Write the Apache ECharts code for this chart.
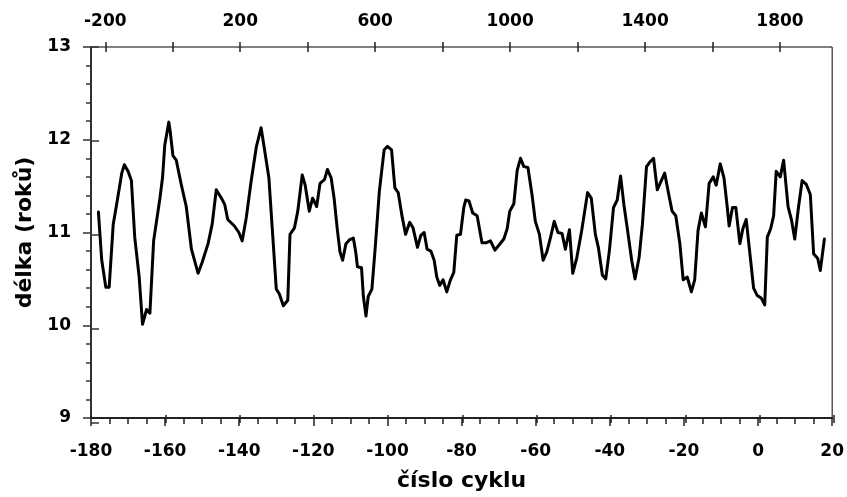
<!DOCTYPE html>
<html><head><meta charset="utf-8">
<script src="https://cdn.jsdelivr.net/npm/echarts@6/dist/echarts.min.js"></script>
<style>html,body{margin:0;padding:0;background:#fff}#c{width:847px;height:497px}</style>
</head><body><div id="c"></div>
<script>
const cycles = [-178.0,-177.1,-176.0,-175.1,-174.0,-173.1,-171.7,-171.0,-170.0,-169.1,-168.2,-167.0,-166.1,-165.0,-164.1,-163.1,-161.4,-160.7,-160.1,-159.0,-158.6,-157.9,-157.0,-155.6,-154.3,-152.9,-151.1,-150.0,-148.4,-147.3,-146.2,-144.8,-143.9,-143.1,-141.3,-140.1,-139.2,-138.1,-136.8,-135.4,-134.1,-133.2,-132.0,-131.1,-130.0,-129.2,-128.1,-126.9,-126.3,-125.1,-124.2,-123.0,-122.2,-121.1,-120.2,-119.1,-118.2,-117.0,-116.2,-115.2,-114.4,-113.5,-112.8,-112.1,-111.2,-110.3,-109.2,-108.5,-108.1,-107.0,-106.5,-105.8,-105.2,-104.2,-103.3,-102.2,-100.9,-100.0,-98.9,-98.0,-97.1,-96.0,-95.1,-94.0,-93.1,-91.9,-91.0,-90.1,-89.3,-88.3,-87.4,-86.7,-85.9,-85.0,-84.0,-83.0,-82.1,-81.3,-80.3,-79.4,-78.9,-78.0,-77.0,-75.8,-74.5,-73.3,-72.2,-71.0,-70.0,-68.6,-67.7,-67.0,-65.9,-65.0,-64.1,-63.2,-62.1,-61.0,-60.1,-59.0,-58.0,-57.0,-56.1,-55.0,-54.0,-52.9,-52.0,-50.9,-50.0,-48.9,-47.6,-46.0,-45.0,-43.9,-43.1,-42.0,-41.1,-40.1,-39.0,-38.0,-37.1,-36.2,-35.2,-34.1,-33.2,-32.1,-31.2,-30.1,-29.2,-28.2,-27.2,-26.1,-25.2,-24.0,-23.2,-22.2,-21.1,-20.2,-19.1,-18.0,-17.1,-16.2,-15.3,-14.2,-13.2,-12.1,-11.3,-10.2,-9.2,-8.3,-7.8,-6.9,-6.0,-4.9,-4.1,-3.2,-2.3,-1.2,-0.2,0.9,1.8,2.5,3.4,4.2,4.9,6.0,6.9,8.1,9.0,9.9,10.9,11.9,13.0,14.1,15.0,16.1,16.8,17.9];
const lengths = [11.22,10.70,10.41,10.41,11.09,11.30,11.64,11.73,11.66,11.56,10.95,10.52,10.01,10.17,10.13,10.91,11.37,11.59,11.94,12.19,12.08,11.83,11.78,11.51,11.28,10.82,10.56,10.68,10.88,11.09,11.46,11.37,11.30,11.14,11.07,11.00,10.91,11.16,11.55,11.92,12.13,11.90,11.59,11.05,10.39,10.34,10.21,10.27,10.98,11.05,11.23,11.62,11.51,11.23,11.37,11.28,11.53,11.57,11.68,11.59,11.37,11.02,10.79,10.70,10.88,10.92,10.94,10.77,10.63,10.62,10.31,10.10,10.31,10.39,10.84,11.44,11.89,11.93,11.89,11.48,11.43,11.16,10.98,11.11,11.05,10.84,10.97,11.00,10.82,10.80,10.70,10.52,10.43,10.49,10.36,10.49,10.57,10.97,10.98,11.27,11.35,11.34,11.21,11.18,10.89,10.89,10.91,10.81,10.86,10.93,11.04,11.23,11.31,11.67,11.80,11.71,11.70,11.41,11.12,10.98,10.70,10.79,10.93,11.12,11.00,10.99,10.82,11.03,10.56,10.73,11.02,11.43,11.37,10.98,10.84,10.54,10.50,10.81,11.27,11.35,11.61,11.30,11.02,10.70,10.50,10.73,11.09,11.71,11.76,11.80,11.46,11.56,11.64,11.39,11.23,11.18,10.88,10.49,10.52,10.36,10.49,11.02,11.21,11.06,11.53,11.60,11.51,11.74,11.59,11.27,11.07,11.27,11.27,10.88,11.04,11.14,10.81,10.40,10.32,10.29,10.22,10.95,11.04,11.18,11.66,11.60,11.78,11.28,11.14,10.93,11.27,11.56,11.52,11.41,10.77,10.72,10.59,10.93];
// bottom axis: cycle number; top axis: year (ticks every 200, labels every 400)
const cycleRange = [-180, 20];
const yearRange = [-200, 1800];
const lengthRange = [9, 13];

const FONT = 'DejaVu Sans';
const lbl = {fontFamily: FONT, fontWeight: 'bold', fontSize: 17, color: '#000'};
const data = cycles.map((c, i) => [c, lengths[i]]);
const AX = '#222';
const rect = {left: 91, right: 13, top: 47, bottom: 74};
const yearRect = {left: 105.3, right: 67, top: 47, bottom: 74};
const hiddenY = gi => ({gridIndex: gi, type: 'value', min: 0, max: 1, show: false});

const chart = echarts.init(document.getElementById('c'));
chart.setOption({
  animation: false,
  grid: [
    Object.assign({show: true, borderColor: '#000', borderWidth: 1, backgroundColor: 'transparent'}, rect),
    Object.assign({show: false}, rect),
    Object.assign({show: false}, yearRect),
    Object.assign({show: false}, yearRect)
  ],
  xAxis: [
    {gridIndex: 0, type: 'value', position: 'bottom', min: cycleRange[0], max: cycleRange[1], interval: 20,
     name: 'číslo cyklu', nameLocation: 'middle', nameGap: 52,
     nameTextStyle: {fontFamily: FONT, fontWeight: 'bold', fontSize: 22, color: '#000'},
     axisLine: {show: true, onZero: false, lineStyle: {color: AX, width: 2}},
     axisTick: {show: true, inside: false, length: 8, lineStyle: {color: AX, width: 1.5}},
     minorTick: {show: true, splitNumber: 4, length: 6, lineStyle: {color: AX, width: 1.5}},
     axisLabel: Object.assign({margin: 25, formatter: v => String(v)}, lbl),
     splitLine: {show: false}, minorSplitLine: {show: false}},
    {gridIndex: 1, type: 'value', position: 'bottom', min: cycleRange[0], max: cycleRange[1], interval: 20,
     axisLine: {show: false, onZero: false}, axisLabel: {show: false}, splitLine: {show: false},
     axisTick: {show: true, inside: true, length: 8, lineStyle: {color: AX, width: 1.5}}},
    {gridIndex: 2, type: 'value', position: 'top', min: yearRange[0], max: yearRange[1], interval: 200,
     axisLine: {show: false, onZero: false},
     axisTick: {show: true, inside: false, length: 5, lineStyle: {color: AX, width: 1.5}},
     axisLabel: Object.assign({margin: 17, formatter: v => ((v + 200) % 400 === 0 ? String(v) : '')}, lbl),
     splitLine: {show: false}},
    {gridIndex: 3, type: 'value', position: 'top', min: yearRange[0], max: yearRange[1], interval: 200,
     axisLine: {show: false, onZero: false}, axisLabel: {show: false}, splitLine: {show: false},
     axisTick: {show: true, inside: true, length: 5, lineStyle: {color: AX, width: 1.5}}}
  ],
  yAxis: [
    {gridIndex: 0, type: 'value', position: 'left', min: lengthRange[0], max: lengthRange[1], interval: 1,
     name: 'délka (roků)', nameLocation: 'middle', nameGap: 54, nameRotate: 90,
     nameTextStyle: {fontFamily: FONT, fontWeight: 'bold', fontSize: 22, color: '#000'},
     axisLine: {show: true, onZero: false, lineStyle: {color: '#333', width: 2}},
     axisTick: {show: true, inside: false, length: 8, lineStyle: {color: '#333', width: 1.5}},
     minorTick: {show: true, splitNumber: 5, length: 5, lineStyle: {color: '#333', width: 1.5}},
     axisLabel: Object.assign({margin: 20}, lbl),
     splitLine: {show: false}, minorSplitLine: {show: false}},
    {gridIndex: 1, type: 'value', position: 'left', min: lengthRange[0], max: lengthRange[1], interval: 1,
     axisLine: {show: false, onZero: false}, axisLabel: {show: false}, splitLine: {show: false},
     axisTick: {show: true, inside: true, length: 8, lineStyle: {color: '#333', width: 1.5}}},
    hiddenY(2), hiddenY(3)
  ],
  series: [{
    type: 'line', xAxisIndex: 0, yAxisIndex: 0, data: data,
    showSymbol: false, symbol: 'none', smooth: false,
    lineStyle: {color: '#000', width: 3, join: 'round', cap: 'round'}
  }]
});
</script></body></html>
